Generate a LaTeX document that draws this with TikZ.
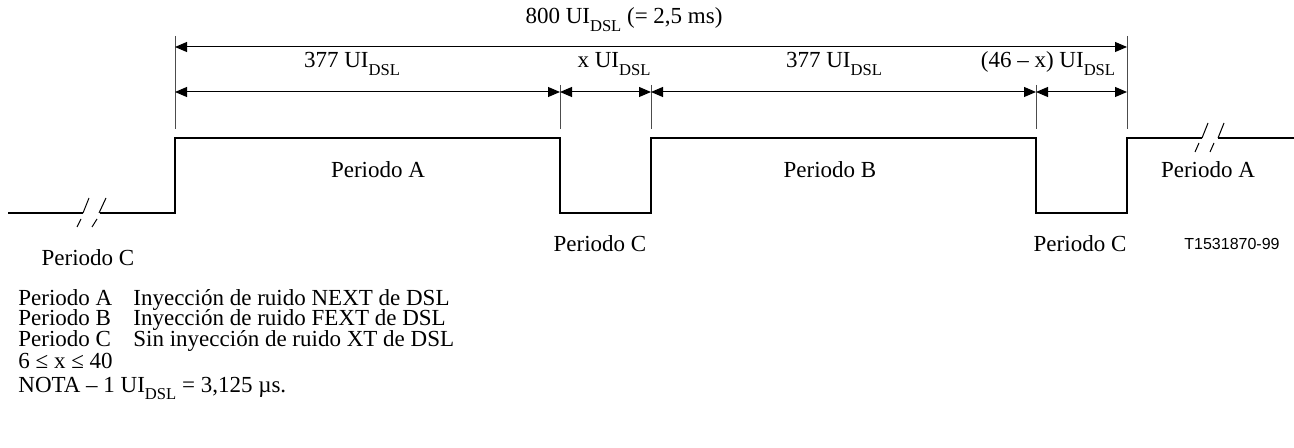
\documentclass[tikz,border=0pt]{standalone}
\usepackage{fontspec}
\setmainfont{Liberation Serif}
\newfontfamily\tagfont{Liberation Sans}
\usetikzlibrary{arrows.meta}
\newcommand\dsl{\raisebox{-3.6pt}{\fontsize{8.3}{8}\selectfont DSL}}
\begin{document}
\begin{tikzpicture}[x=0.5pt,y=-0.5pt,
  lbl/.style={inner sep=0pt, anchor=base, font=\fontsize{11.5}{12}\selectfont},
  leg/.style={inner sep=0pt, anchor=base west, font=\fontsize{11.5}{12}\selectfont},
  tag/.style={inner sep=0pt, anchor=base, font=\tagfont\fontsize{8}{9}\selectfont},
  dim/.style={line width=0.5pt, {Triangle[length=6pt,width=5pt]}-{Triangle[length=6pt,width=5pt]}},
  ext/.style={line width=0.5pt, draw=black!70},
  wave/.style={line width=0.6pt, line join=miter},
  heavy/.style={line width=1.1pt},
  brk/.style={line width=0.5pt}]
\useasboundingbox (0,0) rectangle (1294,448);
% extension lines
\coordinate (e1t) at (175,36);  \coordinate (e1b) at (175,129);
\coordinate (e2t) at (560,85);  \coordinate (e2b) at (560,129);
\coordinate (e3t) at (651,85);  \coordinate (e3b) at (651,129);
\coordinate (e4t) at (1036,85); \coordinate (e4b) at (1036,129);
\coordinate (e5t) at (1127,36); \coordinate (e5b) at (1127,129);
\foreach \i in {1,...,5} \draw[ext] (e\i t) -- (e\i b);
% dimension arrows
\coordinate (ta) at (175,47);  \coordinate (tb) at (1127,47);
\draw[dim] (ta) -- (tb);
\coordinate (d1) at (175,92); \coordinate (d2) at (560,92); \coordinate (d3) at (651,92);
\coordinate (d4) at (1036,92); \coordinate (d5) at (1127,92);
\draw[dim] (d1) -- (d2);
\draw[dim] (d2) -- (d3);
\draw[dim] (d3) -- (d4);
\draw[dim] (d4) -- (d5);
% dimension labels
\node[lbl] (l800) at (624,24) {800 UI\dsl{} (= 2,5 ms)};
\node[lbl] (l377a) at (352,68) {377 UI\dsl};
\node[lbl] (lx) at (614,68) {x UI\dsl};
\node[lbl] (l377b) at (834,68) {377 UI\dsl};
\node[lbl] (l46) at (1048,68) {(46 – x) UI\dsl};
% waveform
\draw[heavy] (8,213) -- (83,213);
\draw[brk] (83,213) -- (89,198) (99,213) -- (106,198);
\draw[brk] (77,227) -- (81,219) (92,227) -- (97,219);
\draw[wave] (100,213) -- (175,213) -- (175,138) -- (560,138) -- (560,213) -- (651,213)
  -- (651,138) -- (1036,138) -- (1036,213) -- (1127,213) -- (1127,138) -- (1202,138);
\draw[brk] (1202,138) -- (1208,123) (1218,138) -- (1224,123);
\draw[brk] (1195,152) -- (1199,143) (1210,152) -- (1214,143);
\draw[heavy] (1218,138) -- (1294,138);
% period labels
\node[lbl] (pa1) at (378,178) {Periodo A};
\node[lbl] (pb) at (830,178) {Periodo B};
\node[lbl] (pa2) at (1208,178) {Periodo A};
\node[lbl] (pc1) at (88,266) {Periodo C};
\node[lbl] (pc2) at (600,252) {Periodo C};
\node[lbl] (pc3) at (1080,252) {Periodo C};
\node[tag] (id) at (1232,250) {T1531870-99};
% legend
\node[leg] (ka) at (18,306) {Periodo A};
\node[leg] (va) at (133,306) {Inyección de ruido NEXT de DSL};
\node[leg] (kb) at (18,326) {Periodo B};
\node[leg] (vb) at (133,326) {Inyección de ruido FEXT de DSL};
\node[leg] (kc) at (18,346) {Periodo C};
\node[leg] (vc) at (133,346) {Sin inyección de ruido XT de DSL};
\node[leg] (kx) at (18,368) {6 ≤ x ≤ 40};
\node[leg] (nota) at (18,392) {NOTA – 1 UI\dsl{} = 3,125 µs.};
\end{tikzpicture}
\end{document}
